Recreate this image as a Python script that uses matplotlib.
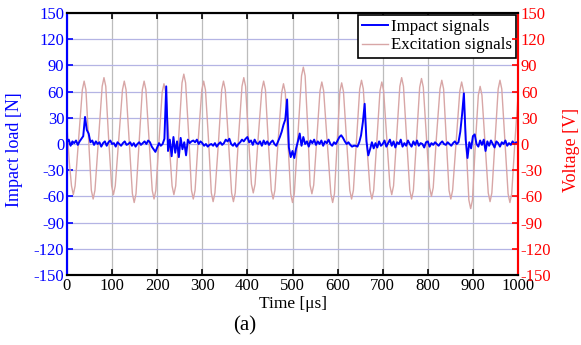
import numpy as np
import matplotlib.pyplot as plt

plt.rcParams["font.family"] = ["Liberation Serif", "DejaVu Serif"]
plt.rcParams["axes.unicode_minus"] = False

# ==============================
# DATA
# ==============================
# excitation signal knots: time [us], voltage [V]
exc_t = [0, 5, 10, 14, 18, 26, 34, 38, 42, 48, 54, 58, 62, 70, 78, 82,
         86, 92, 99, 103, 107, 115, 123, 127, 131, 138, 145, 149, 153, 160, 167, 171,
         175, 182, 189, 193, 197, 204, 211, 215, 219, 226, 233, 237, 241, 248, 255, 259,
         263, 270, 276, 280, 284, 291, 299, 303, 307, 314, 320, 324, 328, 336, 343, 347,
         351, 358, 365, 369, 373, 380, 388, 392, 396, 402, 409, 413, 417, 424, 432, 436,
         440, 446, 453, 457, 461, 468, 476, 480, 484, 490, 496, 500, 504, 512, 520, 524,
         528, 534, 539, 543, 547, 554, 561, 565, 569, 577, 585, 589, 593, 599, 605, 609,
         613, 620, 627, 631, 635, 642, 649, 653, 657, 664, 672, 676, 680, 687, 694, 698,
         702, 709, 716, 720, 724, 731, 738, 742, 746, 753, 760, 764, 768, 775, 782, 786,
         790, 797, 804, 808, 812, 819, 827, 831, 835, 841, 847, 851, 855, 863, 871, 875,
         879, 885, 891, 895, 899, 905, 912, 916, 920, 927, 934, 938, 942, 949, 956, 960,
         964, 971, 978, 982, 986, 993, 1000]
exc_v = [20, -20, -48, -58, -48, 7, 62, 72, 62, 5, -53, -63, -53, 7, 66, 76,
         66, 9, -48, -58, -48, 7, 62, 72, 62, 3, -57, -67, -57, 3, 62, 72,
         62, 5, -53, -63, -53, 3, 59, 69, 59, 6, -48, -58, -48, 11, 70, 80,
         70, 9, -53, -63, -53, 5, 62, 72, 62, 3, -56, -66, -56, 3, 62, 72,
         62, 3, -56, -66, -56, 5, 66, 76, 66, 10, -46, -56, -46, 8, 62, 72,
         62, 5, -53, -63, -53, 3, 59, 69, 59, 1, -57, -67, -57, 11, 78, 88,
         78, 16, -47, -57, -47, 7, 61, 71, 61, 2, -57, -67, -57, 2, 60, 70,
         60, 4, -53, -63, -53, 5, 63, 73, 63, 5, -53, -63, -53, 4, 61, 71,
         61, 7, -48, -58, -48, 9, 66, 76, 66, 7, -53, -63, -53, 6, 65, 75,
         65, 8, -50, -60, -50, 7, 63, 73, 63, 5, -53, -63, -53, 4, 61, 71,
         61, -2, -64, -74, -64, -4, 56, 66, 56, 0, -56, -66, -56, 4, 63, 73,
         63, 3, -57, -67, -57, 2, 55]

# impact signal, one sample every 4 us (10 samples per row = 40 us)
imp_v = [
    2, 5, -2, 3, 1, 4, -1, 3, 6, 9,           # 0
    31, 16, 12, 2, 4, -1, 3, 0, 2, -3,        # 40
    1, 3, -2, 2, 4, 0, 1, -3, 2, 0,           # 80
    -2, 1, 3, -1, 0, 2, -2, 1, -3, 0,         # 120
    2, -1, 1, 3, 0, 4, 2, -3, -6, -9,         # 160
    -4, 1, -2, 0, 6, 66, -8, 5, -14, 8,       # 200
    -10, 3, -15, 7, -6, 2, -13, 5, 1, 3,      # 240
    4, 2, 5, 0, 3, 1, -2, 0, -3, -1,          # 280
    0, -2, 1, -3, 0, 2, -1, 1, 5, 3,          # 320
    6, 0, -2, 1, -3, 0, 2, 5, 3, 6,           # 360
    8, 2, 4, -1, 5, 1, 0, 3, -2, 4,           # 400
    0, 3, -1, 2, 4, 0, -2, 3, 8, 14,          # 440
    22, 28, 51, -4, -15, -8, -16, -5, 3, 12,  # 480
    -2, 8, 0, 3, -3, 4, 1, 5, -1, 3,          # 520
    0, 4, -2, 3, 1, 5, 0, -2, 2, 0,           # 560
    4, 8, 10, 7, 3, 0, 2, -1, -3, -2,         # 600
    -2, -3, 2, 10, 25, 46, 3, -13, -6, 2,     # 640
    -5, 1, -4, 3, -2, 0, 4, -3, 1, 5,         # 680
    -2, 3, -4, 2, 0, 5, -3, 1, -2, 4,         # 720
    0, -3, 3, -1, 4, -2, 1, 0, -4, 2,         # 760
    3, -3, 1, -1, 2, 0, -2, 1, 3, 0,          # 800
    -1, 2, 0, -2, 1, 3, 0, 2, 14, 34,         # 840
    58, 5, -16, 2, -5, 9, 11, 0, -3, 4,       # 880
    -1, 5, -8, 3, -2, 4, 0, -4, 3, 1,         # 920
    -3, 2, 0, 4, -2, 1, -1, 3, 0, 2,          # 960
    1,                                        # 1000
]
imp_t = np.arange(len(imp_v)) * 4

y_ticks = list(range(-150, 151, 30))
x_ticks = list(range(0, 1001, 100))

# ==============================
# PLOT
# ==============================
fig = plt.figure(figsize=(5.81, 3.45), dpi=100)
ax = fig.add_axes([0.1153, 0.2029, 0.7763, 0.7594])
ax2 = ax.twinx()

l_exc, = ax.plot(exc_t, exc_v, color="#d8a6a6", lw=1.0, zorder=2)
l_imp, = ax.plot(imp_t, imp_v, color="#0000ff", lw=1.4, zorder=3)

ax.set_xlim(0, 1000)
ax.set_ylim(-150, 150)
ax2.set_ylim(-150, 150)
ax.set_xticks(x_ticks)
ax.set_yticks(y_ticks)
ax2.set_yticks(y_ticks)

ax.set_axisbelow(True)
ax.yaxis.grid(True, color="#b4b4e4", lw=0.9)
ax.xaxis.grid(True, color="#bcbcbc", lw=0.9)

fs = 12
ax.tick_params(axis="x", direction="in", length=4, width=1.2, top=True,
               labelsize=fs, colors="black", pad=2)
ax.tick_params(axis="y", direction="in", length=4, width=1.2,
               labelsize=fs, colors="#0000ff", pad=2)
ax2.tick_params(axis="y", direction="in", length=4, width=1.2,
                labelsize=fs, colors="#ff0000", pad=2)

for a in (ax, ax2):
    for s in a.spines.values():
        s.set_linewidth(1.5)
ax.spines["left"].set_color("#0000ff")
ax2.spines["left"].set_color("#0000ff")
ax.spines["right"].set_color("#ff0000")
ax2.spines["right"].set_color("#ff0000")

ax.set_ylabel("Impact load [N]", color="#0000ff", fontsize=13)
ax2.set_ylabel("Voltage [V]", color="#ff0000", fontsize=13)
ax.yaxis.set_label_coords(-0.098, 0.477)
ax2.yaxis.set_label_coords(1.10, 0.477)
ax.set_xlabel("Time [μs]", fontsize=12.5, labelpad=1.5)

leg = ax.legend([l_imp, l_exc], ["Impact signals", "Excitation signals"],
                loc="upper right", fontsize=12.2, fancybox=False, framealpha=1,
                edgecolor="black", borderpad=0.25, labelspacing=0.15,
                handlelength=1.5, handletextpad=0.2, borderaxespad=0.1)
leg.get_frame().set_linewidth(1.2)

fig.text(0.422, 0.055, "(a)", fontsize=15, ha="center", va="center")

fig.savefig("out.png", dpi=100)
